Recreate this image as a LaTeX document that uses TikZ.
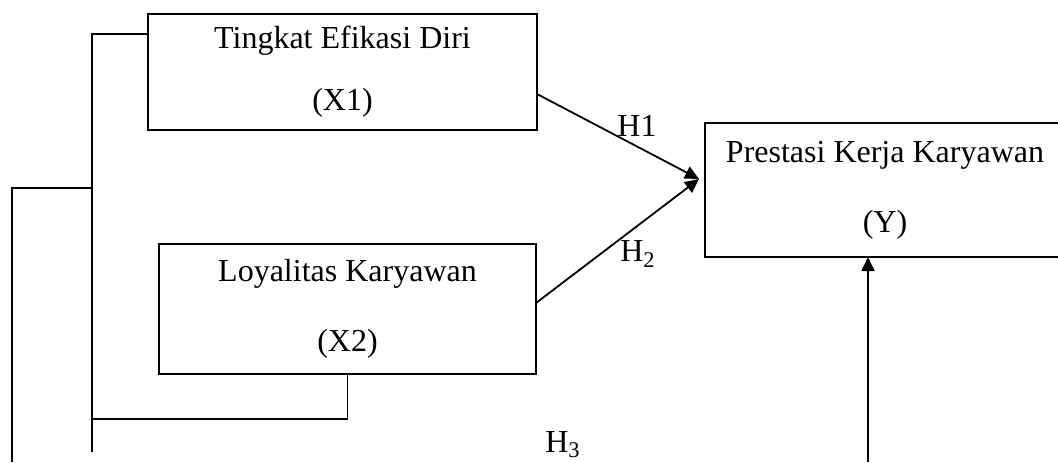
\documentclass[tikz,border=0pt]{standalone}
\usepackage{fontspec}
\setmainfont{Liberation Serif}
\usetikzlibrary{arrows.meta}

\begin{document}
\begin{tikzpicture}[x=0.5pt,y=-0.5pt,line width=0.9pt,
		var/.style={draw,rectangle,align=center,inner sep=0pt,outer sep=0pt,font=\fontsize{16pt}{35pt}\selectfont},
		lbl/.style={font=\fontsize{16pt}{18pt}\selectfont,inner sep=0pt},
		tip/.style={-{Triangle[length=7pt,width=6.5pt]}}]
		\useasboundingbox (0,0) rectangle (1058,462);
		\clip (0,0) rectangle (1058,462);
		
		\node[var,minimum width=194.5pt,minimum height=58pt,font=\fontsize{16pt}{33pt}\selectfont] (X1) at (342.5,72) {\raisebox{-2pt}{Tingkat Efikasi Diri}\\(X1)};
		\node[var,minimum width=188.5pt,minimum height=65pt] (X2) at (347.5,309) {Loyalitas Karyawan\\(X2)};
		\node[var,minimum width=180pt,minimum height=67pt] (Y) at (885,190) {Prestasi Kerja Karyawan\\(Y)};
		
		\coordinate (meet) at (699,179);
		\draw[tip] ([yshift=-11pt]X1.east) -- (meet);
		\draw[tip] ([yshift=3pt]X2.east) -- (meet);
		\node[lbl] (h1) at (637,126) {H1};
		\node[lbl] (h2) at (638,254) {H\textsubscript{2}};
		
		% garis ke kiri
		\coordinate (a) at (92,34);
		\coordinate (b) at (92,452);
		\coordinate (c) at (92,419);
		\coordinate (d) at (92,188);
		\coordinate (e) at (12,188);
		\coordinate (f) at (12,462);
		\draw (a -| X1.west) -- (a) -- (b);
		\draw (X2.south) -- (X2.south |- c) -- (c);
		\draw (d) -- (e) -- (f);
		
		\coordinate (g) at (868,462);
		\draw[tip] (g) -- (g |- Y.south);
		\node[lbl] (h3) at (563,445) {H\textsubscript{3}};
	\end{tikzpicture}
\end{document}
